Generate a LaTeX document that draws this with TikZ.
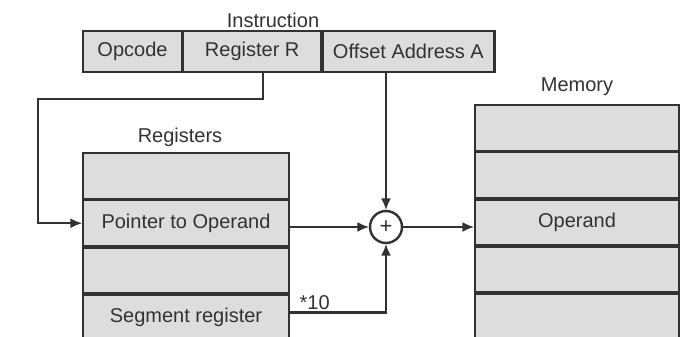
\documentclass[tikz,border=0pt]{standalone}
\usepackage{fontspec}
\setmainfont{Liberation Sans}
\usetikzlibrary{arrows.meta, positioning, calc}
\definecolor{cCell}{RGB}{221,221,221}
\definecolor{cInk}{RGB}{50,50,50}

\begin{document}
\begin{tikzpicture}[scale=0.5, transform shape, x=1pt, y=1pt,
            cell/.style={draw=cInk, fill=cCell, line width=1.2pt, inner sep=0pt, minimum height=46pt, font=\fontsize{20}{24}\selectfont, text=cInk},
            ttl/.style={font=\fontsize{20}{24}\selectfont, text=cInk},
            conn/.style={draw=cInk, line width=1.2pt},
            arr/.style={conn, -{Latex[length=6pt,width=5pt]}}]
            \useasboundingbox (0,0) rectangle (680,337);
            % instruction word
            \node[ttl] (instr) at (273,317) {Instruction};
            \node[cell, minimum width=99pt, minimum height=41pt] (opc) at (132.5,285.5) {Opcode};
            \node[cell, minimum width=138pt, minimum height=41pt, right=0pt of opc] (regr) {Register R};
            \node[cell, minimum width=172pt, minimum height=41pt, right=0pt of regr] (off) {Offset Address A};
            % register file
            \node[ttl] (regs) at (180,200) {Registers};
            \node[cell, minimum width=206pt] (reg1) at (186,161) {};
            \node[cell, minimum width=206pt, below=0pt of reg1] (reg2) {Pointer to Operand};
            \node[cell, minimum width=206pt, below=0pt of reg2] (reg3) {};
            \node[cell, minimum width=206pt, below=0pt of reg3] (reg4) {Segment register};
            % memory
            \node[ttl] (mem) at (577,250) {Memory};
            \node[cell, minimum width=204pt] (mem1) at (577,209) {};
            \node[cell, minimum width=204pt, below=0pt of mem1] (mem2) {};
            \node[cell, minimum width=204pt, below=0pt of mem2] (mem3) {Operand};
            \node[cell, minimum width=204pt, below=0pt of mem3] (mem4) {};
            \node[cell, minimum width=204pt, below=0pt of mem4] (mem5) {};
            % adder
            \node[circle, draw=cInk, line width=1.2pt, fill=white, minimum size=32pt, inner sep=0pt, font=\fontsize{22}{24}\selectfont, text=cInk] (add) at (386,110) {+};
            \coordinate (bend) at (38,238);
            \draw[arr] ($(regr.south)+(11,0)$) |- (bend) |- (reg2.west);
            \draw[arr] (off.south -| add) -- (add.north);
            \draw[arr] (reg2.east |- add) -- (add.west);
            \draw[arr] ($(reg4.east)+(0,5)$) -| (add.south) node[ttl, pos=0.13, above, inner sep=2pt] {*10};
            \draw[arr] (add.east) -- (add.east -| mem3.west);
        \end{tikzpicture}
\end{document}
